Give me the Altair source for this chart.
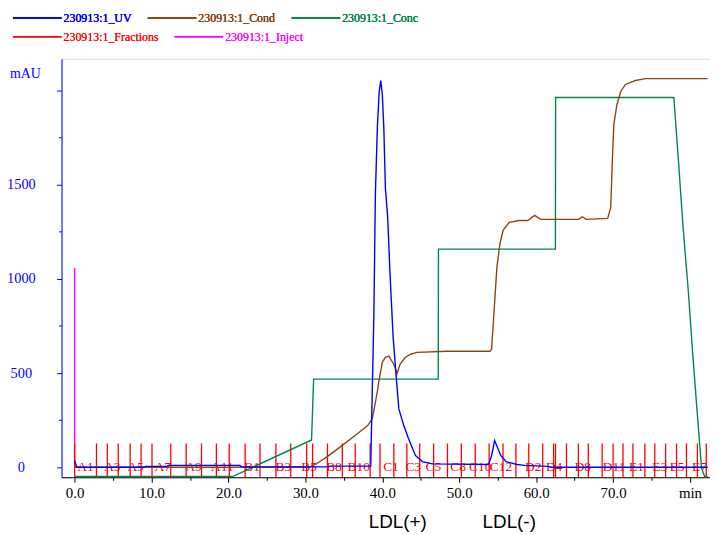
import altair as alt
import pandas as pd

# ---------------- data ----------------
UV = "230913:1_UV"
COND = "230913:1_Cond"
CONC = "230913:1_Conc"
FRAC = "230913:1_Fractions"
INJ = "230913:1_Inject"

line_names = [UV, COND, CONC]
line_colors = ["#0000FF", "#8B4513", "#008848"]
rule_names = [FRAC, INJ]
rule_colors = ["#FF0000", "#FF00FF"]

uv_t = [0.0, 0.3, 9.0, 9.2, 12.0, 12.2, 21.5, 21.7, 33.0, 33.2, 38.5,
        38.6, 38.9, 39.1, 39.35, 39.6, 39.8, 40.0, 40.2, 40.4, 40.7, 41.0,
        41.4, 41.8, 42.15, 42.8, 43.4, 44.3, 45.2, 46.5, 53.8, 54.2, 54.6,
        55.4, 56.1, 57.5, 58.5, 61.5, 62.0, 82.3]
uv_v = [35, 0, 0, 5, 5, 10, 10, 2, 2, 6, 6,
        220, 800, 1450, 1800, 1995, 2053, 1980, 1800, 1485, 1326, 1030,
        695, 484, 310, 220, 153, 63, 30, 18, 15, 60, 142,
        63, 30, 15, 10, 5, 0, 0]

cond_t = [0.0, 30.5, 31.5, 32.9, 34.8, 36.8, 38.1, 38.7, 39.35, 39.6, 40.0,
          40.4, 40.85, 41.3, 41.6, 41.9, 42.3, 43.0, 43.7, 44.5, 48.4, 54.0,
          54.2, 54.4, 54.6, 54.9, 55.3, 55.7, 56.5, 57.8, 58.9, 59.8, 60.6,
          65.5, 66.0, 66.5, 69.3, 69.7, 69.9, 70.1, 70.5, 71.0, 71.6, 72.9,
          74.2, 82.3]
cond_v = [0, 0, 20, 58, 116, 179, 221, 258, 400, 468, 558,
          584, 590, 560, 537, 495, 547, 584, 600, 610, 616, 616,
          626, 747, 874, 1063, 1189, 1258, 1300, 1310, 1310, 1337, 1316,
          1316, 1330, 1316, 1321, 1379, 1626, 1821, 1926, 1995, 2032, 2053,
          2063, 2063]

conc_t = [0.0, 20.6, 30.8, 31.07, 47.27, 47.3, 62.5, 62.53, 77.9, 78.5,
          79.1, 79.8, 80.4, 81.0, 81.5, 81.9, 82.3]
conc_v = [-48, -48, 145, 468, 468, 1158, 1158, 1963, 1963, 1626,
          1274, 926, 574, 258, -5, -48, -48]

inject_t = [0.0]
inject_low = [0]
inject_high = [1058]

frac_t = [0.0, 2.84, 4.25, 5.67, 7.22, 8.64, 10.06, 12.5, 14.5, 16.5, 18.43,
          20.1, 22.17, 24.1, 26.17, 28.1, 30.17, 30.94, 32.87, 34.8, 36.48,
          38.42, 39.7, 41.5, 43.19, 44.86, 46.67, 48.47, 50.28, 52.08, 53.89,
          55.69, 57.37, 59.04, 60.85, 62.27, 62.52, 63.94, 65.49, 66.78, 68.58,
          70.0, 71.29, 72.58, 74.13, 75.42, 76.83, 78.25, 79.54, 80.96, 82.12]
frac_low = -53
frac_high = 126

frac_labels = ["A1", "A3", "A5", "A7", "A9", "A11", "B1", "B3", "B5", "B8",
               "B10", "C1", "C3", "C5", "C8", "C10", "C12", "D2", "D4", "D8",
               "D11", "E1", "E3", "E5", "E7"]
frac_label_t = [1.42, 4.9, 7.93, 11.47, 15.47, 19.21, 23.08, 27.14, 30.49,
                33.71, 36.93, 41.12, 44.02, 46.63, 49.85, 52.73, 55.43, 59.62,
                62.33, 66.07, 70.13, 73.03, 76.06, 78.32, 81.22]

ann_text = ["LDL(+)", "LDL(-)"]
ann_t = [42.0, 56.5]
ann_y = [-290, -290]

x_ticks = list(range(0, 81, 5))
y_ticks = list(range(0, 2001, 250))

# ---------------- frames ----------------
df_uv = pd.DataFrame({"t": uv_t, "v": uv_v, "series": UV})
df_cond = pd.DataFrame({"t": cond_t, "v": cond_v, "series": COND})
df_conc = pd.DataFrame({"t": conc_t, "v": conc_v, "series": CONC})
df_inj = pd.DataFrame({"t": inject_t, "lo": inject_low, "hi": inject_high, "series": INJ})
df_frac = pd.DataFrame({"t": frac_t, "lo": frac_low, "hi": frac_high, "series": FRAC})
df_flab = pd.DataFrame({"t": frac_label_t, "label": frac_labels, "v": 0})
df_ann = pd.DataFrame({"t": ann_t, "label": ann_text, "v": ann_y})
for d in (df_uv, df_cond, df_conc):
    d["idx"] = range(len(d))

SERIF = "Liberation Serif"

xscale = alt.Scale(domain=[-1.7, 82.6], nice=False, zero=False)
yscale = alt.Scale(domain=[-53, 2168], nice=False, zero=False)

xaxis = alt.Axis(
    values=x_ticks, title=None, grid=False,
    tickSize={"condition": {"test": "datum.value % 10 === 0", "value": 5}, "value": 3},
    labelPadding=3,
    labelExpr="datum.value === 80 ? 'min' : (datum.value % 10 === 0 ? format(datum.value, '.1f') : '')",
    domainColor="black", tickColor="black", labelColor="black",
    labelFont=SERIF, labelFontSize=15, labelFlush=False, labelOverlap=False,
)
yaxis = alt.Axis(
    values=y_ticks, format="d", grid=False,
    tickSize={"condition": {"test": "datum.value % 500 === 0", "value": 5}, "value": 3},
    labelPadding=36,
    labelAlign="center", labelBaseline="middle", labelOverlap=False,
    labelExpr="(datum.value % 500 === 0 && datum.value < 2000) ? datum.label : ''",
    domainColor="#0000FF", tickColor="#0000FF", labelColor="#0000FF",
    labelFont=SERIF, labelFontSize=14.5,
    title="mAU", titleAngle=0, titleX=-37, titleY=15, titleAlign="center",
    titleBaseline="middle", titleColor="#0000FF", titleFont=SERIF,
    titleFontSize=14, titleFontWeight="normal",
)


def make_legend(scale_name, ly):
    return alt.Legend(
        title=None, orient="none", legendX=-50, legendY=ly, direction="horizontal",
        columns=3, columnPadding=13,
        symbolType="stroke", symbolSize=2401, symbolStrokeWidth=1.5, symbolOffset=0,
        labelFont=SERIF, labelFontSize=12, labelFontWeight="normal",
        labelOffset=1, labelLimit=300,
        labelColor={"expr": f"scale('{scale_name}', datum.value)"},
    )


color = alt.Color("series:N", scale=alt.Scale(domain=line_names, range=line_colors),
                  legend=make_legend("color", -67))
stroke = alt.Stroke("series:N", scale=alt.Scale(domain=rule_names, range=rule_colors),
                    legend=make_legend("stroke", -48))

x = alt.X("t:Q", scale=xscale, axis=xaxis)
y = alt.Y("v:Q", scale=yscale, axis=yaxis)

inj = alt.Chart(df_inj).mark_rule(strokeWidth=1.5).encode(
    x=alt.X("t:Q", scale=xscale, axis=xaxis),
    y=alt.Y("lo:Q", scale=yscale, axis=yaxis), y2="hi:Q", stroke=stroke)

frac = alt.Chart(df_frac).mark_rule(strokeWidth=1.3).encode(
    x=alt.X("t:Q", scale=xscale, axis=xaxis),
    y=alt.Y("lo:Q", scale=yscale, axis=yaxis), y2="hi:Q", stroke=stroke)

flab = alt.Chart(df_flab).mark_text(
    font=SERIF, fontSize=13.5, color="#FF0000", baseline="middle", align="center"
).encode(x=x, y=y, text="label:N")


def line(df):
    return alt.Chart(df).mark_line(strokeWidth=1.4, interpolate="linear").encode(
        x=x, y=y, color=color, order="idx:Q")


ann = alt.Chart(df_ann).mark_text(
    font="Liberation Sans", fontSize=19, color="black", baseline="middle", align="center"
).encode(x=x, y=y, text="label:N")

chart = alt.layer(
    inj, frac, flab, line(df_conc), line(df_cond), line(df_uv), ann
).resolve_legend(color="independent", stroke="independent").properties(
    width=654, height=422,
    autosize=alt.AutoSizeParams(type="none"),
    padding={"left": 54, "top": 49, "right": 0, "bottom": 62},
).configure_view(strokeWidth=0).configure(background="white")

chart.save("out.html", embed_options={"renderer": "svg", "actions": False})
